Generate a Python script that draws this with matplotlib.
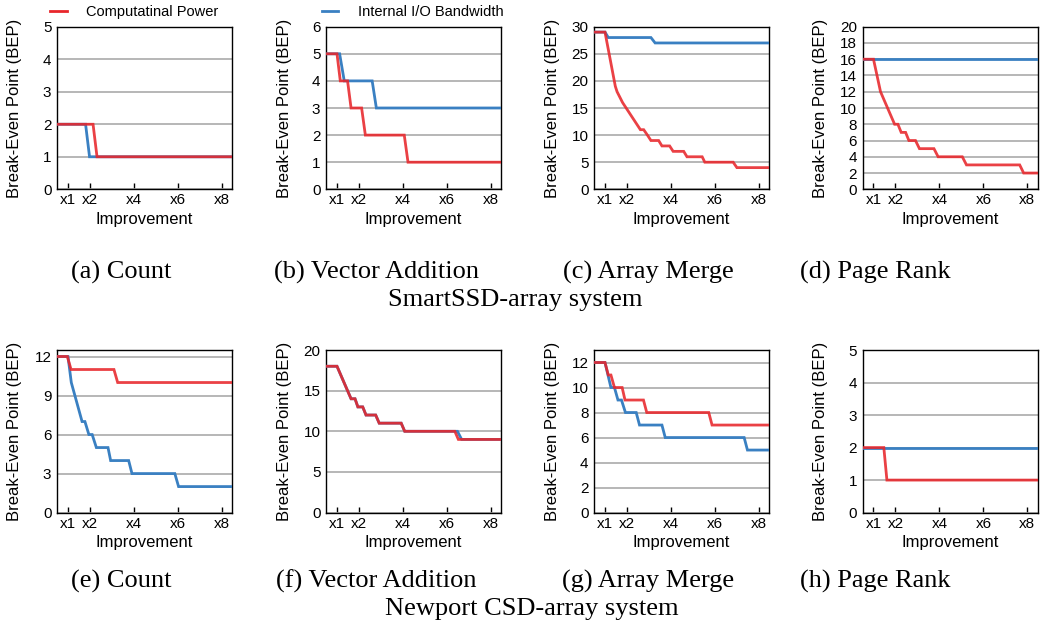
import matplotlib
matplotlib.use("Agg")
import matplotlib.pyplot as plt

W, H = 1048, 627

# ---------------- data (x = improvement factor, y = break-even point) ----------------
# (a) Count - SmartSSD
a_red_x = [0.5, 2.14, 2.32, 8.46]
a_red_y = [2, 2, 1, 1]
a_blue_x = [0.5, 1.80, 1.98, 8.46]
a_blue_y = [2, 2, 1, 1]
# (b) Vector Addition - SmartSSD
b_red_x = [0.5, 1.0, 1.15, 1.48, 1.64, 2.12, 2.29, 4.06, 4.23, 8.46]
b_red_y = [5, 5, 4, 4, 3, 3, 2, 2, 1, 1]
b_blue_x = [0.5, 1.12, 1.33, 2.60, 2.79, 8.46]
b_blue_y = [5, 5, 4, 4, 3, 3]
# (c) Array Merge - SmartSSD
c_red_x = [0.5, 1.0, 1.47, 1.55, 1.80, 2.61, 2.76, 2.93, 3.09, 3.44, 3.59, 3.94, 4.10,
           4.58, 4.73, 5.42, 5.54, 6.83, 7.00, 8.46]
c_red_y = [29, 29, 19, 18, 16, 11, 11, 10, 9, 9, 8, 8, 7, 7, 6, 6, 5, 5, 4, 4]
c_blue_x = [0.5, 1.0, 1.15, 3.09, 3.28, 8.46]
c_blue_y = [29, 29, 28, 28, 27, 27]
# (d) Page Rank - SmartSSD
d_red_x = [0.5, 1.0, 1.32, 1.96, 2.11, 2.26, 2.46, 2.61, 2.91, 3.09, 3.75, 3.94, 5.04,
           5.23, 7.65, 7.83, 8.46]
d_red_y = [16, 16, 12, 8, 8, 7, 7, 6, 6, 5, 5, 4, 4, 3, 3, 2, 2]
d_blue_x = [0.5, 8.46]
d_blue_y = [16, 16]
# (e) Count - Newport
e_red_x = [0.5, 0.97, 1.14, 3.09, 3.26, 8.46]
e_red_y = [12, 12, 11, 11, 10, 10]
e_blue_x = [0.5, 1.0, 1.15, 1.64, 1.77, 1.95, 2.10, 2.29, 2.82, 2.94, 3.76, 3.91,
            5.86, 6.03, 8.46]
e_blue_y = [12, 12, 10, 7, 7, 6, 6, 5, 5, 4, 4, 3, 3, 2, 2]
# (f) Vector Addition - Newport
f_red_x = [0.5, 1.0, 1.64, 1.82, 1.95, 2.17, 2.32, 2.76, 2.92, 3.92, 4.08, 6.36, 6.52, 8.46]
f_red_y = [18, 18, 14, 14, 13, 13, 12, 12, 11, 11, 10, 10, 9, 9]
f_blue_x = [0.5, 1.0, 1.64, 1.82, 1.95, 2.17, 2.32, 2.76, 2.92, 3.92, 4.08, 6.48, 6.67, 8.46]
f_blue_y = [18, 18, 14, 14, 13, 13, 12, 12, 11, 11, 10, 10, 9, 9]
# (g) Array Merge - Newport
g_red_x = [0.5, 1.0, 1.15, 1.27, 1.43, 1.78, 1.91, 2.75, 2.90, 5.72, 5.87, 8.46]
g_red_y = [12, 12, 11, 11, 10, 10, 9, 9, 8, 8, 7, 7]
g_blue_x = [0.5, 1.0, 1.27, 1.43, 1.59, 1.75, 1.93, 2.42, 2.57, 3.59, 3.74, 7.33, 7.48, 8.46]
g_blue_y = [12, 12, 10, 10, 9, 9, 8, 8, 7, 7, 6, 6, 5, 5]
# (h) Page Rank - Newport
h_red_x = [0.5, 1.47, 1.61, 8.46]
h_red_y = [2, 2, 1, 1]
h_blue_x = [0.5, 8.46]
h_blue_y = [2, 2]

captions = ["(a) Count", "(b) Vector Addition", "(c) Array Merge", "(d) Page Rank",
            "(e) Count", "(f) Vector Addition", "(g) Array Merge", "(h) Page Rank"]
row_titles = ["SmartSSD-array system", "Newport CSD-array system"]
ylims = [5, 6, 30, 20, 12.5, 20, 13, 5]
ysteps = [1, 1, 5, 2, 3, 5, 2, 1]
ytops = [5, 6, 30, 20, 12, 20, 12, 5]
xtick_vals = [1, 2, 4, 6, 8]
xtick_labels = ["x1", "x2", "x4", "x6", "x8"]
series_names = ["Computatinal Power", "Internal I/O Bandwidth"]

reds = [(a_red_x, a_red_y), (b_red_x, b_red_y), (c_red_x, c_red_y), (d_red_x, d_red_y),
        (e_red_x, e_red_y), (f_red_x, f_red_y), (g_red_x, g_red_y), (h_red_x, h_red_y)]
blues = [(a_blue_x, a_blue_y), (b_blue_x, b_blue_y), (c_blue_x, c_blue_y), (d_blue_x, d_blue_y),
         (e_blue_x, e_blue_y), (f_blue_x, f_blue_y), (g_blue_x, g_blue_y), (h_blue_x, h_blue_y)]

RED = "#e8262b"
BLUE = "#3a80c2"
SANS = ["Liberation Sans", "DejaVu Sans"]
SERIF = ["Liberation Serif", "DejaVu Serif"]

fig = plt.figure(figsize=(W / 100, H / 100), dpi=100)

col_left = [57, 326, 594, 862.5]
ax_w = 175
row_top = [26.7, 350]
ax_h = 162.6
cap_x = [121, 376, 648, 875]
cap_y = [272, 581]
title_y = [300, 609]
title_x = [515, 532]

for i in range(8):
    r, c = divmod(i, 4)
    left = col_left[c]
    top = row_top[r]
    ax = fig.add_axes([left / W, 1 - (top + ax_h) / H, ax_w / W, ax_h / H])
    bx, by = blues[i]
    rx, ry = reds[i]
    ax.plot(bx, by, color=BLUE, lw=2.0, zorder=3, solid_joinstyle="miter")
    ax.plot(rx, ry, color=RED, lw=2.0, zorder=4, alpha=0.88, solid_joinstyle="miter")
    ax.set_xlim(0.5, 8.46)
    ax.set_ylim(0, ylims[i])
    ax.set_yticks(list(range(0, ytops[i] + 1, ysteps[i])))
    ax.set_xticks(xtick_vals)
    ax.set_xticklabels(xtick_labels)
    ax.yaxis.grid(True, color="#aaaaaa", lw=1.2, zorder=0)
    ax.set_axisbelow(True)
    ax.tick_params(axis="x", direction="in", length=4, width=1, pad=3, labelsize=11)
    ax.tick_params(axis="y", length=0, pad=4, labelsize=11)
    for lab in ax.get_xticklabels() + ax.get_yticklabels():
        lab.set_family(SANS)
    for s in ax.spines.values():
        s.set_linewidth(1.0)
        s.set_color("black")
    ax.set_xlabel("Improvement", family=SANS, fontsize=12, labelpad=3)
    ax.set_ylabel("Break-Even Point (BEP)", family=SANS, fontsize=12, va="center")
    ax.yaxis.set_label_coords(-42 / ax_w, 0.5)
    fig.text(cap_x[c] / W, 1 - cap_y[r] / H, captions[i], family=SERIF, fontsize=19,
             ha="center", va="center")

for r in range(2):
    fig.text(title_x[r] / W, 1 - title_y[r] / H, row_titles[r], family=SERIF, fontsize=19,
             ha="center", va="center")

# legend at top
fig.add_artist(plt.Line2D([50 / W, 67 / W], [1 - 11 / H, 1 - 11 / H], color=RED, lw=2))
fig.text(86 / W, 1 - 12 / H, series_names[0], family=SANS, fontsize=10.5, va="center")
fig.add_artist(plt.Line2D([322 / W, 338 / W], [1 - 11 / H, 1 - 11 / H], color=BLUE, lw=2))
fig.text(358 / W, 1 - 12 / H, series_names[1], family=SANS, fontsize=10.5, va="center")

fig.savefig("out.png", dpi=100)
